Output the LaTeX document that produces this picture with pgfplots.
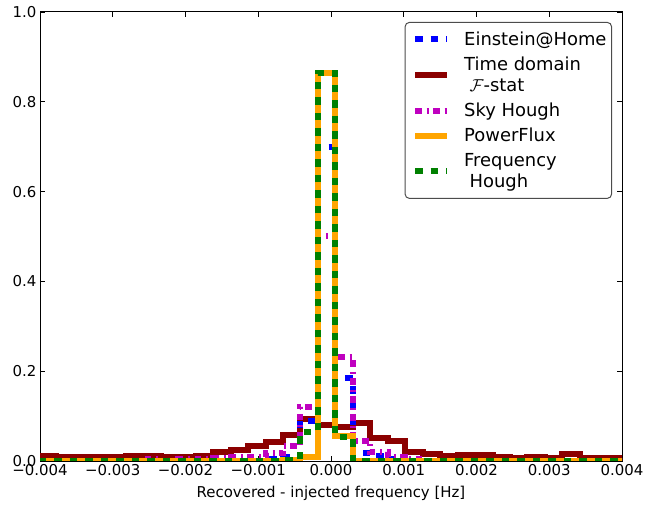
\documentclass[border=0pt]{standalone}
\usepackage{fontspec}
\setmainfont{DejaVu Sans}
\usepackage{pgfplots}
\usepackage{pgfplotstable}
\pgfplotsset{compat=1.18}
\definecolor{fstat}{RGB}{139,0,0}
\definecolor{skyh}{RGB}{191,0,191}
\definecolor{pflux}{RGB}{255,165,0}
\definecolor{fhough}{RGB}{0,128,0}

\pgfplotstableread{
x        fs     eh     sh     pf     fh
-0.00402 0.012  0      0      0      0
-0.00378 0.008  0      0      0      0
-0.00354 0.009  0      0      0      0
-0.00330 0.009  0      0      0      0
-0.00306 0.009  0      0      0      0
-0.00282 0.012  0      0      0      0
-0.00258 0.012  0      0.004  0      0
-0.00234 0.009  0      0      0      0
-0.00210 0.009  0      0.005  0      0
-0.00186 0.012  0      0.005  0      0
-0.00162 0.020  0      0.006  0      0
-0.00138 0.024  0      0.008  0      0
-0.00114 0.033  0      0.008  0      0
-0.00090 0.043  0.004  0.017  0      0
-0.00066 0.058  0.010  0.033  0.003  0.003
-0.00042 0.093  0.090  0.120  0.010  0.065
-0.00018 0.080  0.700  0.500  0.865  0.865
0.00006  0.075  0.184  0.232  0.055  0.053
0.00030  0.085  0.017  0.045  0      0
0.00054  0.051  0.012  0.020  0      0
0.00078  0.045  0.004  0.010  0      0
0.00102  0.019  0      0.004  0      0
0.00126  0.015  0      0      0      0
0.00150  0.011  0      0      0      0
0.00174  0.014  0      0      0      0
0.00198  0.014  0      0      0      0
0.00222  0.010  0      0      0      0
0.00246  0.007  0      0      0      0
0.00270  0.010  0      0      0      0
0.00294  0.007  0      0      0      0
0.00318  0.016  0      0      0      0
0.00342  0.007  0      0      0      0
0.00366  0.007  0      0      0      0
0.00390  0.007  0      0      0      0
0.00414  0.007  0      0      0      0
}\hist

\begin{document}
\begin{tikzpicture}
\begin{axis}[
  width=582bp, height=449bp, scale only axis,
  xmin=-0.004, xmax=0.004, ymin=0, ymax=1,
  xtick={-0.004,-0.003,-0.002,-0.001,0,0.001,0.002,0.003,0.004},
  xticklabels={−0.004,−0.003,−0.002,−0.001,0.000,0.001,0.002,0.003,0.004},
  ytick={0,0.2,0.4,0.6,0.8,1},
  yticklabels={0.0,0.2,0.4,0.6,0.8,1.0},
  scaled x ticks=false, scaled y ticks=false,
  tick label style={font=\fontsize{15}{18}\selectfont},
  label style={font=\fontsize{15}{18}\selectfont},
  xlabel={Recovered - injected frequency [Hz]},
  xlabel style={yshift=-3bp},
  major tick length=5bp,
  tick style={black, line width=0.8bp},
  axis line style={line width=1bp},
  legend cell align=left,
  legend style={at={(rel axis cs:1,1)}, anchor=north east, xshift=-10bp, yshift=-10bp,
    font=\fontsize{18}{21.5}\selectfont, draw=black!70, rounded corners=4bp, line width=1bp,
    cells={align=left}, row sep=6bp, inner ysep=7bp, inner xsep=3bp},
  legend image code/.code={\draw[#1] (0bp,0bp) -- (32bp,0bp); \path (-4bp,0bp) (44bp,0bp);},
]
\addlegendimage{blue, line width=6bp, dash pattern=on 7.5bp off 8bp}
\addlegendentry{Einstein@Home}
\addlegendimage{fstat, line width=6bp}
\addlegendentry{Time domain\\\hspace*{0.3em}$\mathcal{F}$-stat}
\addlegendimage{skyh, line width=6bp, dash pattern=on 6.5bp off 5bp on 2bp off 4.5bp}
\addlegendentry{Sky Hough}
\addlegendimage{pflux, line width=6bp}
\addlegendentry{PowerFlux}
\addlegendimage{fhough, line width=6bp, dash pattern=on 7.5bp off 8bp}
\addlegendentry{Frequency\\\hspace*{0.3em}Hough}

\addplot[fstat, line width=6bp, const plot, forget plot] table[x=x, y=fs] {\hist};
\addplot[blue, line width=6bp, const plot, dash pattern=on 7.5bp off 8bp, forget plot] table[x=x, y=eh] {\hist};
\addplot[skyh, line width=6bp, const plot, dash pattern=on 6.5bp off 5bp on 2bp off 4.5bp, forget plot] table[x=x, y=sh] {\hist};
\addplot[pflux, line width=6bp, const plot, forget plot] table[x=x, y=pf] {\hist};
\addplot[fhough, line width=6bp, const plot, dash pattern=on 7.5bp off 8bp, forget plot] table[x=x, y=fh] {\hist};
\end{axis}
\pgfresetboundingbox
\path[use as bounding box] (current axis.south west) ++(-40bp,-49bp) rectangle ++(660bp,510bp);
\end{tikzpicture}
\end{document}
